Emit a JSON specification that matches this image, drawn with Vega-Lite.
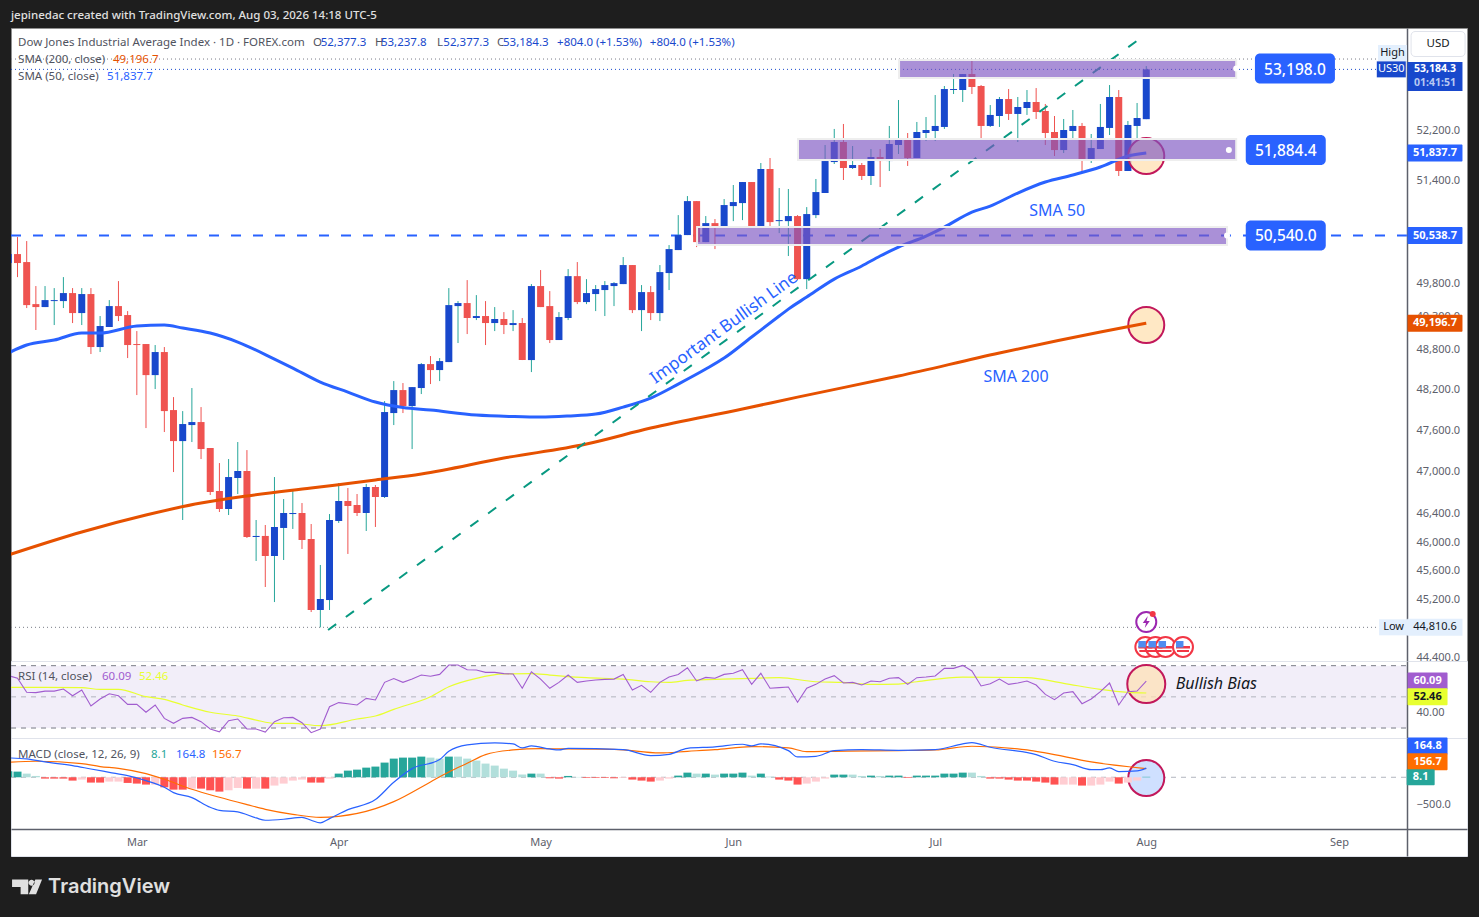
{
"$schema":"https://vega.github.io/schema/vega-lite/v6.json",
"description":"Dow Jones daily candles with SMA 50 and 200, RSI and MACD panes",
"background":"#1e1e1e",
"padding":{"left":9,"top":10,"right":12,"bottom":19},
"bounds":"flush",
"title":{"text":"jepinedac created with TradingView.com, Aug 03, 2026 14:18 UTC-5","anchor":"start","frame":"group","color":"#e0e0e0","fontSize":11.5,"fontWeight":500,"offset":6},
"spacing":0,
"config":{"font":"Noto Sans","view":{"stroke":null},"scale":{"continuousPadding":0},
"axis":{"grid":false,"ticks":false,"domainColor":"#5d606b","domainWidth":1.5,"labelColor":"#5d606b","labelFontSize":11,"labelPadding":9,"labelOverlap":false,"labelFlush":false,"labelBound":false}},
"datasets":{
"candles":[
{"bar":0,"open":50114,"high":50329,"low":50037,"close":50252},{"bar":1,"open":50252,"high":50515,"low":49898,"close":50114},{"bar":2,"open":50129,"high":50453,"low":49426,"close":49471},{"bar":3,"open":49486,"high":49761,"low":49094,"close":49441},{"bar":4,"open":49441,"high":49761,"low":49441,"close":49547},{"bar":5,"open":49532,"high":49730,"low":49169,"close":49547},{"bar":6,"open":49532,"high":49898,"low":49426,"close":49654},{"bar":7,"open":49654,"high":49730,"low":49199,"close":49350},{"bar":8,"open":49350,"high":49730,"low":49169,"close":49639},{"bar":9,"open":49639,"high":49730,"low":48733,"close":48838},
{"bar":10,"open":48838,"high":49305,"low":48763,"close":49154},{"bar":11,"open":49139,"high":49547,"low":49139,"close":49456},{"bar":12,"open":49456,"high":49837,"low":49229,"close":49305},{"bar":13,"open":49320,"high":49380,"low":48673,"close":48868},{"bar":14,"open":48883,"high":49078,"low":48123,"close":48868},{"bar":15,"open":48883,"high":48883,"low":47638,"close":48419},{"bar":16,"open":48419,"high":48868,"low":48212,"close":48763},{"bar":17,"open":48763,"high":48838,"low":47580,"close":47887},{"bar":18,"open":47902,"high":48093,"low":46999,"close":47448},{"bar":19,"open":47448,"high":47887,"low":46312,"close":47697},
{"bar":20,"open":47682,"high":48227,"low":47434,"close":47726},{"bar":21,"open":47726,"high":47946,"low":47187,"close":47332},{"bar":22,"open":47347,"high":47347,"low":46669,"close":46712},{"bar":23,"open":46726,"high":47129,"low":46426,"close":46469},{"bar":24,"open":46469,"high":47187,"low":46383,"close":46927},{"bar":25,"open":46913,"high":47434,"low":46683,"close":47014},{"bar":26,"open":47014,"high":47317,"low":46057,"close":46071},{"bar":27,"open":46071,"high":46312,"low":45733,"close":46086},{"bar":28,"open":46086,"high":46241,"low":45369,"close":45803},{"bar":29,"open":45803,"high":46927,"low":45160,"close":46213},
{"bar":30,"open":46199,"high":46611,"low":45747,"close":46412},{"bar":31,"open":46397,"high":46755,"low":46185,"close":46412},{"bar":32,"open":46412,"high":46554,"low":45902,"close":46029},{"bar":33,"open":46043,"high":46255,"low":45022,"close":45050},{"bar":34,"open":45050,"high":45677,"low":44811,"close":45202},{"bar":35,"open":45188,"high":46397,"low":45050,"close":46312},{"bar":36,"open":46298,"high":46841,"low":46270,"close":46583},{"bar":37,"open":46583,"high":46769,"low":45832,"close":46512},{"bar":38,"open":46526,"high":46683,"low":46369,"close":46412},{"bar":39,"open":46412,"high":46827,"low":46156,"close":46784},
{"bar":40,"open":46784,"high":46812,"low":46213,"close":46640},{"bar":41,"open":46640,"high":48034,"low":46626,"close":47873},{"bar":42,"open":47858,"high":48330,"low":47682,"close":48197},{"bar":43,"open":48197,"high":48301,"low":47858,"close":47961},{"bar":44,"open":47961,"high":48241,"low":47332,"close":48241},{"bar":45,"open":48227,"high":48598,"low":48138,"close":48583},{"bar":46,"open":48583,"high":48703,"low":48286,"close":48494},{"bar":47,"open":48494,"high":48673,"low":48330,"close":48628},{"bar":48,"open":48613,"high":49730,"low":48613,"close":49471},{"bar":49,"open":49456,"high":49532,"low":48898,"close":49502},
{"bar":50,"open":49502,"high":49852,"low":49033,"close":49275},{"bar":51,"open":49275,"high":49623,"low":49244,"close":49305},{"bar":52,"open":49305,"high":49532,"low":48868,"close":49199},{"bar":53,"open":49199,"high":49441,"low":49078,"close":49260},{"bar":54,"open":49260,"high":49365,"low":49033,"close":49169},{"bar":55,"open":49169,"high":49395,"low":49078,"close":49199},{"bar":56,"open":49199,"high":49275,"low":48643,"close":48643},{"bar":57,"open":48643,"high":49791,"low":48464,"close":49761},{"bar":58,"open":49761,"high":50006,"low":49441,"close":49441},{"bar":59,"open":49456,"high":49684,"low":48898,"close":48943},
{"bar":60,"open":48943,"high":49365,"low":48943,"close":49290},{"bar":61,"open":49275,"high":50021,"low":49244,"close":49913},{"bar":62,"open":49913,"high":50129,"low":49486,"close":49517},{"bar":63,"open":49517,"high":49867,"low":49486,"close":49654},{"bar":64,"open":49639,"high":49776,"low":49380,"close":49715},{"bar":65,"open":49700,"high":49837,"low":49305,"close":49776},{"bar":66,"open":49761,"high":49821,"low":49456,"close":49806},{"bar":67,"open":49791,"high":50206,"low":49791,"close":50083},{"bar":68,"open":50083,"high":50083,"low":49350,"close":49395},{"bar":69,"open":49395,"high":49776,"low":49078,"close":49669},
{"bar":70,"open":49669,"high":49761,"low":49244,"close":49350},{"bar":71,"open":49350,"high":50083,"low":49229,"close":49975},{"bar":72,"open":49960,"high":50391,"low":49700,"close":50329},{"bar":73,"open":50314,"high":50857,"low":50314,"close":50546},{"bar":74,"open":50546,"high":51155,"low":50546,"close":51076},{"bar":75,"open":51076,"high":51076,"low":50360,"close":50437},{"bar":76,"open":50437,"high":50842,"low":50437,"close":50732},{"bar":77,"open":50732,"high":50795,"low":50329,"close":50686},{"bar":78,"open":50686,"high":51108,"low":50655,"close":51014},{"bar":79,"open":50998,"high":51329,"low":50763,"close":51061},
{"bar":80,"open":51045,"high":51376,"low":50779,"close":51376},{"bar":81,"open":51376,"high":51376,"low":50686,"close":50686},{"bar":82,"open":50686,"high":51677,"low":50686,"close":51582},{"bar":83,"open":51582,"high":51756,"low":50686,"close":50748},{"bar":84,"open":50763,"high":51282,"low":50577,"close":50779},{"bar":85,"open":50763,"high":51266,"low":50222,"close":50842},{"bar":86,"open":50842,"high":50857,"low":49852,"close":49867},{"bar":87,"open":49867,"high":50982,"low":49715,"close":50873},{"bar":88,"open":50857,"high":51424,"low":50810,"close":51218},{"bar":89,"open":51203,"high":51963,"low":51203,"close":51708},
{"bar":90,"open":51692,"high":52220,"low":51661,"close":52011},{"bar":91,"open":52011,"high":52300,"low":51408,"close":51598},{"bar":92,"open":51598,"high":51947,"low":51582,"close":51645},{"bar":93,"open":51645,"high":51677,"low":51408,"close":51471},{"bar":94,"open":51471,"high":51899,"low":51329,"close":51772},{"bar":95,"open":51772,"high":51899,"low":51297,"close":51708},{"bar":96,"open":51708,"high":52268,"low":51550,"close":51979},{"bar":97,"open":51963,"high":52686,"low":51820,"close":52043},{"bar":98,"open":52043,"high":52155,"low":51630,"close":51756},{"bar":99,"open":51756,"high":52332,"low":51756,"close":52171},
{"bar":100,"open":52155,"high":52412,"low":52027,"close":52203},{"bar":101,"open":52187,"high":52767,"low":52027,"close":52268},{"bar":102,"open":52252,"high":52913,"low":52220,"close":52864},{"bar":103,"open":52848,"high":53108,"low":52783,"close":52864},{"bar":104,"open":52848,"high":53108,"low":52654,"close":53108},{"bar":105,"open":53108,"high":53353,"low":52783,"close":52897},{"bar":106,"open":52913,"high":52929,"low":52075,"close":52268},{"bar":107,"open":52268,"high":52605,"low":52252,"close":52445},{"bar":108,"open":52428,"high":52735,"low":52252,"close":52702},{"bar":109,"open":52702,"high":52864,"low":52364,"close":52461},
{"bar":110,"open":52461,"high":52735,"low":52011,"close":52573},{"bar":111,"open":52557,"high":52848,"low":52445,"close":52654},{"bar":112,"open":52654,"high":52880,"low":52380,"close":52493},{"bar":113,"open":52509,"high":52622,"low":51963,"close":52155},{"bar":114,"open":52171,"high":52428,"low":51788,"close":51883},{"bar":115,"open":51883,"high":52380,"low":51836,"close":52203},{"bar":116,"open":52187,"high":52525,"low":52059,"close":52268},{"bar":117,"open":52268,"high":52316,"low":51534,"close":51724},{"bar":118,"open":51724,"high":52139,"low":51677,"close":51915},{"bar":119,"open":51899,"high":52622,"low":51899,"close":52252},
{"bar":120,"open":52236,"high":52929,"low":52123,"close":52735},{"bar":121,"open":52735,"high":52848,"low":51471,"close":51550},{"bar":122,"open":51550,"high":52348,"low":51550,"close":52284},{"bar":123,"open":52268,"high":52638,"low":52043,"close":52396},{"bar":124,"open":52377.3,"high":53237.8,"low":52377.3,"close":53184.3}
],
"sma50":[{"bar":0,"value":48748},{"bar":2,"value":48868},{"bar":5,"value":48943},{"bar":8,"value":49048},{"bar":10,"value":49048},{"bar":14,"value":49154},{"bar":17,"value":49169},{"bar":19,"value":49124},{"bar":22,"value":49048},{"bar":25,"value":48913},{"bar":29,"value":48658},{"bar":31,"value":48523},{"bar":34,"value":48315},{"bar":37,"value":48167},{"bar":40,"value":48020},{"bar":43,"value":47939},{"bar":46,"value":47902},{"bar":51,"value":47829},{"bar":55,"value":47807},{"bar":58,"value":47799},{"bar":61,"value":47814},{"bar":64,"value":47843},{"bar":67,"value":47946},{"bar":70,"value":48079},{"bar":73,"value":48286},{"bar":76,"value":48509},{"bar":78,"value":48673},{"bar":81,"value":48988},{"bar":84,"value":49305},{"bar":85,"value":49410},{"bar":87,"value":49593},{"bar":90,"value":49867},{"bar":93,"value":50068},{"bar":95,"value":50222},{"bar":97,"value":50360},{"bar":100,"value":50530},{"bar":102,"value":50670},{"bar":105,"value":50904},{"bar":107,"value":50998},{"bar":110,"value":51203},{"bar":113,"value":51376},{"bar":116,"value":51487},{"bar":119,"value":51614},{"bar":122,"value":51788},{"bar":124,"value":51837.7}],
"sma200":[{"bar":0,"value":45817},{"bar":8,"value":46142},{"bar":15,"value":46383},{"bar":21,"value":46554},{"bar":26,"value":46654},{"bar":33,"value":46769},{"bar":40,"value":46884},{"bar":45,"value":46970},{"bar":54,"value":47201},{"bar":63,"value":47405},{"bar":70,"value":47638},{"bar":80,"value":47917},{"bar":86,"value":48093},{"bar":97,"value":48405},{"bar":108,"value":48748},{"bar":119,"value":49063},{"bar":124,"value":49196.7}],
"zones":[{"start":97.06,"end":133.8,"top":53337,"bottom":53043},{"start":86.05,"end":133.8,"top":52059,"bottom":51724},{"start":75.05,"end":132.8,"top":50671,"bottom":50391}],
"handles":[{"bar":133.8,"value":53198},{"bar":133,"value":51884.4},{"bar":132.8,"value":50540}],
"zoneTags":[{"label":"53,198.0","bar":140.2,"value":53198},{"label":"51,884.4","bar":139.2,"value":51884.4},{"label":"50,540.0","bar":139.2,"value":50540}],
"priceTags":[{"label":"51,837.7","at":51837.7,"tone":"sma50"},{"label":"50,538.7","at":50538.7,"tone":"sma50"},{"label":"49,196.7","at":49196.7,"tone":"sma200"}],
"flags":[{"label":"High","bar":150.83,"at":53452,"tone":"light"},{"label":"US30","bar":150.7,"at":53184.3,"tone":"price"},{"label":"Low","bar":150.95,"at":44811,"tone":"light"}],
"notes":[
{"label":"Dow Jones Industrial Average Index · 1D · FOREX.com","bar":1.06,"at":53632,"tone":"muted"},
{"label":"O","bar":33.2,"at":53632,"tone":"muted"},{"label":"52,377.3","bar":34.04,"at":53632,"tone":"price"},
{"label":"H","bar":39.96,"at":53632,"tone":"muted"},{"label":"53,237.8","bar":40.6,"at":53632,"tone":"price"},
{"label":"L","bar":46.7,"at":53632,"tone":"muted"},{"label":"52,377.3","bar":47.4,"at":53632,"tone":"price"},
{"label":"C","bar":53.25,"at":53632,"tone":"muted"},{"label":"53,184.3","bar":53.9,"at":53632,"tone":"price"},
{"label":"+804.0 (+1.53%)","bar":59.8,"at":53632,"tone":"price"},{"label":"+804.0 (+1.53%)","bar":69.9,"at":53632,"tone":"price"},
{"label":"SMA (200, close)","bar":1.06,"at":53353,"tone":"muted"},{"label":"49,196.7","bar":11.4,"at":53353,"tone":"sma200"},
{"label":"SMA (50, close)","bar":1.06,"at":53075,"tone":"muted"},{"label":"51,837.7","bar":10.76,"at":53075,"tone":"sma50"}
],
"rsi":[{"bar":0,"value":63.6},{"bar":1,"value":61.9},{"bar":2,"value":52.9},{"bar":3,"value":52.7},{"bar":4,"value":53.7},{"bar":5,"value":53.7},{"bar":6,"value":55},{"bar":7,"value":50.7},{"bar":8,"value":54.4},{"bar":9,"value":44.1},{"bar":10,"value":48.6},{"bar":11,"value":52},{"bar":12,"value":50.7},{"bar":13,"value":45.2},{"bar":14,"value":45.2},{"bar":15,"value":40.1},{"bar":16,"value":44.8},{"bar":17,"value":36.2},{"bar":18,"value":33},{"bar":19,"value":36.2},{"bar":20,"value":36.8},{"bar":21,"value":34.1},{"bar":22,"value":29.4},{"bar":23,"value":27.6},{"bar":24,"value":34.7},{"bar":25,"value":35.8},{"bar":26,"value":29.4},{"bar":27,"value":29.4},{"bar":28,"value":27.4},{"bar":29,"value":34.1},{"bar":30,"value":36.6},{"bar":31,"value":36.8},{"bar":32,"value":33.4},{"bar":33,"value":27},{"bar":34,"value":29.4},{"bar":35,"value":43.7},{"bar":36,"value":46.3},{"bar":37,"value":45.6},{"bar":38,"value":44.8},{"bar":39,"value":49},{"bar":40,"value":48},{"bar":41,"value":59.3},{"bar":42,"value":61.7},{"bar":43,"value":59.3},{"bar":44,"value":61.4},{"bar":45,"value":64},{"bar":46,"value":63.2},{"bar":47,"value":64.4},{"bar":48,"value":70.4},{"bar":49,"value":70.4},{"bar":50,"value":67.4},{"bar":51,"value":67.2},{"bar":52,"value":65.7},{"bar":53,"value":65.7},{"bar":54,"value":64.9},{"bar":55,"value":64.7},{"bar":56,"value":55.5},{"bar":57,"value":66.1},{"bar":58,"value":61.4},{"bar":59,"value":55.5},{"bar":60,"value":59.3},{"bar":61,"value":64},{"bar":62,"value":59.3},{"bar":63,"value":60.2},{"bar":64,"value":60.8},{"bar":65,"value":61.2},{"bar":66,"value":61.4},{"bar":67,"value":64.4},{"bar":68,"value":54.4},{"bar":69,"value":57.4},{"bar":70,"value":52.9},{"bar":71,"value":59.3},{"bar":72,"value":62.7},{"bar":73,"value":64.4},{"bar":74,"value":68.7},{"bar":75,"value":60.2},{"bar":76,"value":62.5},{"bar":77,"value":61.9},{"bar":78,"value":64.4},{"bar":79,"value":65.1},{"bar":80,"value":67.4},{"bar":81,"value":58},{"bar":82,"value":65.1},{"bar":83,"value":55.5},{"bar":84,"value":55.9},{"bar":85,"value":56.3},{"bar":86,"value":46.5},{"bar":87,"value":55.5},{"bar":88,"value":58},{"bar":89,"value":61.4},{"bar":90,"value":63.6},{"bar":91,"value":58.9},{"bar":92,"value":59.3},{"bar":93,"value":57.6},{"bar":94,"value":60.2},{"bar":95,"value":59.7},{"bar":96,"value":61.9},{"bar":97,"value":62.3},{"bar":98,"value":58},{"bar":99,"value":62.3},{"bar":100,"value":62.7},{"bar":101,"value":63.4},{"bar":102,"value":68.3},{"bar":103,"value":68.3},{"bar":104,"value":70.2},{"bar":105,"value":66.6},{"bar":106,"value":57},{"bar":107,"value":58.4},{"bar":108,"value":61.4},{"bar":109,"value":58},{"bar":110,"value":58.9},{"bar":111,"value":60.2},{"bar":112,"value":57.6},{"bar":113,"value":51.6},{"bar":114,"value":48.2},{"bar":115,"value":52.5},{"bar":116,"value":53.3},{"bar":117,"value":45.6},{"bar":118,"value":48.6},{"bar":119,"value":53.3},{"bar":120,"value":58.9},{"bar":121,"value":44.8},{"bar":122,"value":53.3},{"bar":123,"value":53.7},{"bar":124,"value":60.09}],
"rsiMa":[{"bar":0,"value":56.1},{"bar":4,"value":56.1},{"bar":8,"value":55.9},{"bar":10,"value":54.8},{"bar":12,"value":54.8},{"bar":15,"value":50.1},{"bar":17,"value":48.4},{"bar":19,"value":44.8},{"bar":22,"value":40.1},{"bar":25,"value":37.7},{"bar":27,"value":35.1},{"bar":29,"value":33},{"bar":31,"value":33},{"bar":34,"value":31.5},{"bar":38,"value":35.8},{"bar":40,"value":37.7},{"bar":42,"value":42},{"bar":46,"value":50.1},{"bar":48,"value":56.5},{"bar":51,"value":61.9},{"bar":54,"value":64.7},{"bar":57,"value":64.9},{"bar":59,"value":64},{"bar":63,"value":62.3},{"bar":67,"value":61.4},{"bar":70,"value":59.7},{"bar":72,"value":59.3},{"bar":74,"value":60.6},{"bar":77,"value":61.2},{"bar":81,"value":61.9},{"bar":84,"value":62.3},{"bar":88,"value":59.7},{"bar":91,"value":59.3},{"bar":94,"value":58},{"bar":97,"value":58.2},{"bar":99,"value":59.7},{"bar":104,"value":62.7},{"bar":111,"value":62.3},{"bar":115,"value":58.7},{"bar":119,"value":54.8},{"bar":122,"value":52.9},{"bar":124,"value":52.46}],
"rsiTags":[{"label":"60.09","at":60.09,"tone":"rsi"},{"label":"52.46","at":50.1,"tone":"rsiMa"}],
"rsiNotes":[{"label":"RSI (14, close)","bar":1.06,"at":63.4,"tone":"muted"},{"label":"60.09","bar":10.21,"at":63.4,"tone":"rsi"},{"label":"52.46","bar":14.24,"at":63.4,"tone":"rsiMa"}],
"macd":[{"bar":0,"value":349},{"bar":2,"value":331},{"bar":4,"value":277},{"bar":7,"value":211},{"bar":9,"value":150},{"bar":11,"value":90},{"bar":13,"value":30},{"bar":15,"value":-60},{"bar":17,"value":-181},{"bar":18,"value":-277},{"bar":20,"value":-367},{"bar":22,"value":-542},{"bar":23,"value":-596},{"bar":25,"value":-626},{"bar":27,"value":-734},{"bar":28,"value":-776},{"bar":30,"value":-758},{"bar":32,"value":-722},{"bar":33,"value":-776},{"bar":34,"value":-824},{"bar":35,"value":-746},{"bar":37,"value":-584},{"bar":40,"value":-403},{"bar":42,"value":-90},{"bar":44,"value":156},{"bar":47,"value":319},{"bar":48,"value":469},{"bar":50,"value":584},{"bar":53,"value":620},{"bar":55,"value":602},{"bar":56,"value":530},{"bar":57,"value":566},{"bar":59,"value":511},{"bar":60,"value":493},{"bar":61,"value":523},{"bar":67,"value":499},{"bar":70,"value":391},{"bar":72,"value":415},{"bar":74,"value":523},{"bar":77,"value":548},{"bar":80,"value":596},{"bar":81,"value":566},{"bar":82,"value":602},{"bar":85,"value":481},{"bar":86,"value":367},{"bar":88,"value":379},{"bar":90,"value":481},{"bar":93,"value":499},{"bar":97,"value":487},{"bar":101,"value":499},{"bar":104,"value":602},{"bar":105,"value":626},{"bar":107,"value":542},{"bar":112,"value":409},{"bar":114,"value":289},{"bar":116,"value":229},{"bar":118,"value":138},{"bar":119,"value":138},{"bar":120,"value":168},{"bar":121,"value":102},{"bar":123,"value":114},{"bar":124,"value":164.8}],
"signal":[{"bar":0,"value":271},{"bar":3,"value":289},{"bar":8,"value":247},{"bar":10,"value":193},{"bar":12,"value":162},{"bar":15,"value":66},{"bar":17,"value":-36},{"bar":20,"value":-217},{"bar":23,"value":-361},{"bar":26,"value":-493},{"bar":28,"value":-578},{"bar":31,"value":-668},{"bar":34,"value":-722},{"bar":36,"value":-704},{"bar":40,"value":-566},{"bar":42,"value":-439},{"bar":46,"value":-84},{"bar":48,"value":96},{"bar":50,"value":253},{"bar":52,"value":409},{"bar":55,"value":493},{"bar":58,"value":517},{"bar":60,"value":511},{"bar":66,"value":505},{"bar":71,"value":439},{"bar":74,"value":469},{"bar":77,"value":499},{"bar":81,"value":554},{"bar":85,"value":529},{"bar":87,"value":463},{"bar":90,"value":469},{"bar":97,"value":481},{"bar":101,"value":493},{"bar":105,"value":560},{"bar":111,"value":493},{"bar":113,"value":439},{"bar":118,"value":277},{"bar":124,"value":156.7}],
"hist":[{"bar":0,"value":110,"tone":"teal"},{"bar":1,"value":102,"tone":"teal"},{"bar":2,"value":66,"tone":"fade"},{"bar":3,"value":24,"tone":"fade"},{"bar":4,"value":-24,"tone":"red"},{"bar":5,"value":-24,"tone":"red"},{"bar":6,"value":-24,"tone":"red"},{"bar":7,"value":-60,"tone":"red"},{"bar":8,"value":-42,"tone":"pink"},{"bar":9,"value":-96,"tone":"red"},{"bar":10,"value":-96,"tone":"red"},{"bar":11,"value":-78,"tone":"pink"},{"bar":12,"value":-78,"tone":"pink"},{"bar":13,"value":-102,"tone":"red"},{"bar":14,"value":-114,"tone":"red"},{"bar":15,"value":-132,"tone":"red"},{"bar":16,"value":-132,"tone":"pink"},{"bar":17,"value":-181,"tone":"red"},{"bar":18,"value":-223,"tone":"red"},{"bar":19,"value":-223,"tone":"red"},{"bar":20,"value":-205,"tone":"pink"},{"bar":21,"value":-205,"tone":"red"},{"bar":22,"value":-235,"tone":"red"},{"bar":23,"value":-259,"tone":"red"},{"bar":24,"value":-235,"tone":"pink"},{"bar":25,"value":-193,"tone":"pink"},{"bar":26,"value":-205,"tone":"red"},{"bar":27,"value":-205,"tone":"pink"},{"bar":28,"value":-205,"tone":"red"},{"bar":29,"value":-150,"tone":"pink"},{"bar":30,"value":-114,"tone":"pink"},{"bar":31,"value":-60,"tone":"pink"},{"bar":32,"value":-42,"tone":"pink"},{"bar":33,"value":-96,"tone":"red"},{"bar":34,"value":-96,"tone":"red"},{"bar":35,"value":-24,"tone":"pink"},{"bar":36,"value":66,"tone":"teal"},{"bar":37,"value":120,"tone":"teal"},{"bar":38,"value":138,"tone":"teal"},{"bar":39,"value":174,"tone":"teal"},{"bar":40,"value":193,"tone":"teal"},{"bar":41,"value":265,"tone":"teal"},{"bar":42,"value":337,"tone":"teal"},{"bar":43,"value":355,"tone":"teal"},{"bar":44,"value":355,"tone":"teal"},{"bar":45,"value":373,"tone":"teal"},{"bar":46,"value":355,"tone":"fade"},{"bar":47,"value":337,"tone":"fade"},{"bar":48,"value":373,"tone":"teal"},{"bar":49,"value":373,"tone":"fade"},{"bar":50,"value":337,"tone":"fade"},{"bar":51,"value":301,"tone":"fade"},{"bar":52,"value":247,"tone":"fade"},{"bar":53,"value":211,"tone":"fade"},{"bar":54,"value":156,"tone":"fade"},{"bar":55,"value":120,"tone":"fade"},{"bar":56,"value":48,"tone":"fade"},{"bar":57,"value":66,"tone":"teal"},{"bar":58,"value":66,"tone":"fade"},{"bar":59,"value":-18,"tone":"red"},{"bar":60,"value":-24,"tone":"red"},{"bar":61,"value":24,"tone":"teal"},{"bar":62,"value":6,"tone":"fade"},{"bar":63,"value":-12,"tone":"red"},{"bar":64,"value":-12,"tone":"red"},{"bar":65,"value":-12,"tone":"red"},{"bar":66,"value":-18,"tone":"red"},{"bar":67,"value":-12,"tone":"pink"},{"bar":68,"value":-42,"tone":"red"},{"bar":69,"value":-60,"tone":"red"},{"bar":70,"value":-78,"tone":"red"},{"bar":71,"value":-60,"tone":"pink"},{"bar":72,"value":-24,"tone":"pink"},{"bar":73,"value":30,"tone":"teal"},{"bar":74,"value":84,"tone":"teal"},{"bar":75,"value":66,"tone":"fade"},{"bar":76,"value":66,"tone":"teal"},{"bar":77,"value":48,"tone":"fade"},{"bar":78,"value":66,"tone":"teal"},{"bar":79,"value":66,"tone":"teal"},{"bar":80,"value":84,"tone":"teal"},{"bar":81,"value":30,"tone":"fade"},{"bar":82,"value":66,"tone":"teal"},{"bar":83,"value":12,"tone":"fade"},{"bar":84,"value":-42,"tone":"red"},{"bar":85,"value":-60,"tone":"red"},{"bar":86,"value":-132,"tone":"red"},{"bar":87,"value":-114,"tone":"pink"},{"bar":88,"value":-78,"tone":"pink"},{"bar":89,"value":-24,"tone":"pink"},{"bar":90,"value":48,"tone":"teal"},{"bar":91,"value":48,"tone":"teal"},{"bar":92,"value":48,"tone":"fade"},{"bar":93,"value":24,"tone":"fade"},{"bar":94,"value":30,"tone":"teal"},{"bar":95,"value":24,"tone":"fade"},{"bar":96,"value":30,"tone":"teal"},{"bar":97,"value":30,"tone":"teal"},{"bar":98,"value":-12,"tone":"red"},{"bar":99,"value":30,"tone":"teal"},{"bar":100,"value":30,"tone":"teal"},{"bar":101,"value":30,"tone":"teal"},{"bar":102,"value":66,"tone":"teal"},{"bar":103,"value":66,"tone":"teal"},{"bar":104,"value":84,"tone":"teal"},{"bar":105,"value":84,"tone":"fade"},{"bar":106,"value":24,"tone":"fade"},{"bar":107,"value":-24,"tone":"red"},{"bar":108,"value":-24,"tone":"red"},{"bar":109,"value":-42,"tone":"red"},{"bar":110,"value":-60,"tone":"red"},{"bar":111,"value":-60,"tone":"red"},{"bar":112,"value":-78,"tone":"red"},{"bar":113,"value":-96,"tone":"red"},{"bar":114,"value":-132,"tone":"red"},{"bar":115,"value":-132,"tone":"pink"},{"bar":116,"value":-132,"tone":"pink"},{"bar":117,"value":-150,"tone":"red"},{"bar":118,"value":-150,"tone":"pink"},{"bar":119,"value":-132,"tone":"pink"},{"bar":120,"value":-78,"tone":"pink"},{"bar":121,"value":-114,"tone":"red"},{"bar":122,"value":-96,"tone":"pink"},{"bar":123,"value":-60,"tone":"pink"},{"bar":124,"value":8.1,"tone":"teal"}],
"macdTags":[{"label":"164.8","at":565,"tone":"sma50"},{"label":"156.7","at":282,"tone":"signal"}],
"macdNotes":[{"label":"MACD (close, 12, 26, 9)","bar":1.06,"at":420,"tone":"muted"},{"label":"8.1","bar":15.55,"at":420,"tone":"teal"},{"label":"164.8","bar":18.27,"at":420,"tone":"sma50"},{"label":"156.7","bar":22.2,"at":420,"tone":"signal"}]
},
"vconcat":[
{"width":1456,"height":633,"view":{"fill":"#ffffff","stroke":"#8f8f8f"},
"layer":[
{"data":{"values":[{"tone":"grey","value":53353},{"tone":"price","value":53184.3},{"tone":"grey","value":44811}]},
"mark":{"type":"rule","strokeDash":[1,3],"strokeWidth":1},
"encoding":{"x":{"datum":0.29,"type":"quantitative","scale":{"domain":[0.29,158.95],"nice":false,"zero":false},"axis":null},"x2":{"datum":149.3},
"y":{"field":"value","type":"quantitative","scale":{"type":"log","domain":[44350,53864],"nice":false,"zero":false},
"axis":{"orient":"right","offset":-60,"title":null,"values":[44400,45200,45600,46000,46400,47000,47600,48200,48800,49300,49800,50600,51400,52200],"format":",.1f"}},
"color":{"field":"tone","legend":null,"scale":{"domain":["muted","grey","price","sma50","sma200","rsi","rsiMa","signal","teal","fade","red","pink","light"],"range":["#50535e","#787b86","#1848cc","#2962ff","#e65100","#a15ccf","#e8ff30","#ff6d00","#26a69a","#b2dfdb","#ff5252","#ffcdd2","#e3effd"]}}}},
{"data":{"values":[{"value":50538.7}]},"mark":{"type":"rule","strokeDash":[10,12],"strokeWidth":2,"color":"#2962ff"},
"encoding":{"x":{"datum":0.29,"type":"quantitative","axis":null},"x2":{"datum":152.4},"y":{"field":"value","type":"quantitative"}}},
{"data":{"name":"candles"},"mark":{"type":"rule","strokeWidth":1,"clip":true},
"encoding":{"x":{"field":"bar","type":"quantitative","axis":null},"y":{"field":"low","type":"quantitative"},"y2":{"field":"high"},
"color":{"condition":{"test":"datum.close>=datum.open","value":"#26a69a"},"value":"#ef5350"}}},
{"data":{"name":"candles"},"mark":{"type":"bar","size":7,"clip":true},
"encoding":{"x":{"field":"bar","type":"quantitative","axis":null},"y":{"field":"open","type":"quantitative"},"y2":{"field":"close"},
"color":{"condition":{"test":"datum.close>=datum.open","value":"#1848cc"},"value":"#ef5350"}}},
{"data":{"values":[{"bar":124,"value":51788},{"bar":124,"value":49169}]},
"mark":{"type":"point","shape":"circle","filled":true,"opacity":1,"size":1296,"fill":"#ffe0b2","fillOpacity":0.75,"stroke":"#c2185b","strokeWidth":2},
"encoding":{"x":{"field":"bar","type":"quantitative","axis":null},"y":{"field":"value","type":"quantitative"}}},
{"data":{"name":"sma200"},"mark":{"type":"line","color":"#e65100","strokeWidth":3,"interpolate":"monotone","clip":true},
"encoding":{"x":{"field":"bar","type":"quantitative","axis":null},"y":{"field":"value","type":"quantitative"}}},
{"data":{"name":"sma50"},"mark":{"type":"line","color":"#2962ff","strokeWidth":3,"interpolate":"monotone","clip":true},
"encoding":{"x":{"field":"bar","type":"quantitative","axis":null},"y":{"field":"value","type":"quantitative"}}},
{"data":{"values":[{"bar":34.84,"value":44774},{"bar":123.1,"value":53665}]},
"mark":{"type":"line","color":"#089981","strokeWidth":2,"strokeDash":[10,12]},
"encoding":{"x":{"field":"bar","type":"quantitative","axis":null},"y":{"field":"value","type":"quantitative"}}},
{"data":{"name":"zones"},"mark":{"type":"rect","fill":"#7e57c2","fillOpacity":0.66,"stroke":"#eeeeee","strokeWidth":2},
"encoding":{"x":{"field":"start","type":"quantitative","axis":null},"x2":{"field":"end"},"y":{"field":"top","type":"quantitative"},"y2":{"field":"bottom"}}},
{"data":{"name":"handles"},"mark":{"type":"point","shape":"circle","filled":true,"opacity":1,"size":36,"color":"#ffffff"},
"encoding":{"x":{"field":"bar","type":"quantitative","axis":null},"y":{"field":"value","type":"quantitative"}}},
{"data":{"name":"zoneTags"},"mark":{"type":"rect","width":80,"height":30,"cornerRadius":5,"fill":"#2962ff"},
"encoding":{"x":{"field":"bar","type":"quantitative","axis":null},"y":{"field":"value","type":"quantitative"}}},
{"data":{"name":"zoneTags"},"mark":{"type":"text","fontSize":15.5,"fontWeight":500,"color":"#ffffff","dy":1},
"encoding":{"x":{"field":"bar","type":"quantitative","axis":null},"y":{"field":"value","type":"quantitative"},"text":{"field":"label"}}},
{"data":{"name":"notes"},"mark":{"type":"text","align":"left","fontSize":11.5,"dy":1},
"encoding":{"x":{"field":"bar","type":"quantitative","axis":null},"y":{"field":"at","type":"quantitative"},"text":{"field":"label"},"color":{"field":"tone","legend":null}}},
{"data":{"values":[{"label":"Important Bullish Line","bar":78,"at":49124}]},"mark":{"type":"text","angle":324,"fontSize":17,"color":"#2962ff"},
"encoding":{"x":{"field":"bar","type":"quantitative","axis":null},"y":{"field":"at","type":"quantitative"},"text":{"field":"label"}}},
{"data":{"values":[{"label":"SMA 50","bar":114.3,"at":50935},{"label":"SMA 200","bar":109.8,"at":48405}]},"mark":{"type":"text","fontSize":16,"color":"#2962ff","dy":1},
"encoding":{"x":{"field":"bar","type":"quantitative","axis":null},"y":{"field":"at","type":"quantitative"},"text":{"field":"label"}}},
{"data":{"values":[{"bar":123.9},{"bar":125},{"bar":126.1},{"bar":128}]},"mark":{"type":"point","shape":"circle","filled":true,"opacity":1,"size":400,"fill":"#ffffff","stroke":"#f23645","strokeWidth":2},
"encoding":{"x":{"field":"bar","type":"quantitative","axis":null},"y":{"datum":44541,"type":"quantitative"}}},
{"data":{"values":[{"bar":123.9},{"bar":125},{"bar":126.1},{"bar":128}]},"mark":{"type":"point","shape":"M-0.7,-0.1 H0.7 V0.15 H-0.7Z M-0.6,0.3 H0.6 V0.5 H-0.6Z","filled":true,"opacity":1,"size":400,"color":"#f23645"},
"encoding":{"x":{"field":"bar","type":"quantitative","axis":null},"y":{"datum":44541,"type":"quantitative"}}},
{"data":{"values":[{"bar":123.9},{"bar":125},{"bar":126.1},{"bar":128}]},"mark":{"type":"point","shape":"M-0.7,-0.6 H0.05 V0.05 H-0.7Z","filled":true,"opacity":1,"size":400,"color":"#4f8cf0"},
"encoding":{"x":{"field":"bar","type":"quantitative","axis":null},"y":{"datum":44541,"type":"quantitative"}}},
{"data":{"values":[{"bar":124}]},"mark":{"type":"point","shape":"circle","filled":true,"opacity":1,"size":400,"fill":"#ffffff","stroke":"#9c27b0","strokeWidth":2},
"encoding":{"x":{"field":"bar","type":"quantitative","axis":null},"y":{"datum":44884,"type":"quantitative"}}},
{"data":{"values":[{"bar":124}]},"mark":{"type":"point","shape":"M0.15,-0.6 L-0.35,0.1 L-0.03,0.1 L-0.15,0.6 L0.35,-0.1 L0.03,-0.1 Z","filled":true,"opacity":1,"size":400,"color":"#9c27b0"},
"encoding":{"x":{"field":"bar","type":"quantitative","axis":null},"y":{"datum":44884,"type":"quantitative"}}},
{"data":{"values":[{"bar":124.7}]},"mark":{"type":"point","shape":"circle","filled":true,"opacity":1,"size":36,"color":"#f23645"},
"encoding":{"x":{"field":"bar","type":"quantitative","axis":null},"y":{"datum":44994,"type":"quantitative"}}},
{"data":{"name":"priceTags"},"mark":{"type":"rect","width":55,"height":17,"cornerRadius":1},
"encoding":{"x":{"datum":155.46,"type":"quantitative","axis":null},"y":{"field":"at","type":"quantitative"},"color":{"field":"tone","legend":null}}},
{"data":{"name":"priceTags"},"mark":{"type":"text","fontSize":11,"fontWeight":"bold","color":"#ffffff"},
"encoding":{"x":{"datum":155.46,"type":"quantitative","axis":null},"y":{"field":"at","type":"quantitative"},"text":{"field":"label"}}},
{"data":{"values":[{"at":53067}]},"mark":{"type":"rect","width":55,"height":29,"fill":"#1848cc"},
"encoding":{"x":{"datum":155.46,"type":"quantitative","axis":null},"y":{"field":"at","type":"quantitative"}}},
{"data":{"values":[{"label":"53,184.3","at":53190,"tone":"main"},{"label":"01:41:51","at":52960,"tone":"time"}]},"mark":{"type":"text","fontSize":10.5,"fontWeight":"bold"},
"encoding":{"x":{"datum":155.46,"type":"quantitative","axis":null},"y":{"field":"at","type":"quantitative"},"text":{"field":"label"},
"color":{"condition":{"test":"datum.tone==='main'","value":"#ffffff"},"value":"#b9c9f2"}}},
{"data":{"name":"flags"},"mark":{"type":"rect","width":29,"height":16},
"encoding":{"x":{"field":"bar","type":"quantitative","axis":null},"y":{"field":"at","type":"quantitative"},"color":{"field":"tone","legend":null}}},
{"data":{"name":"flags"},"mark":{"type":"text","fontSize":11},
"encoding":{"x":{"field":"bar","type":"quantitative","axis":null},"y":{"field":"at","type":"quantitative"},"text":{"field":"label"},
"color":{"condition":{"test":"datum.tone==='price'","value":"#ffffff"},"value":"#131722"}}},
{"data":{"values":[{"at":44811}]},"mark":{"type":"rect","width":55,"height":17,"fill":"#e3effd"},
"encoding":{"x":{"datum":155.46,"type":"quantitative","axis":null},"y":{"field":"at","type":"quantitative"}}},
{"data":{"values":[{"label":"44,810.6","at":44811}]},"mark":{"type":"text","fontSize":11,"color":"#131722"},
"encoding":{"x":{"datum":155.46,"type":"quantitative","axis":null},"y":{"field":"at","type":"quantitative"},"text":{"field":"label"}}},
{"data":{"values":[{"at":53600}]},"mark":{"type":"rect","width":54,"height":25,"cornerRadius":4,"fill":"#ffffff","stroke":"#e0e3eb"},
"encoding":{"x":{"datum":155.8,"type":"quantitative","axis":null},"y":{"field":"at","type":"quantitative"}}},
{"data":{"values":[{"label":"USD","at":53600}]},"mark":{"type":"text","fontSize":11.5,"color":"#131722"},
"encoding":{"x":{"datum":155.8,"type":"quantitative","axis":null},"y":{"field":"at","type":"quantitative"},"text":{"field":"label"}}}
]},
{"width":1456,"height":77,"view":{"fill":"#ffffff","stroke":"#e0e3eb"},
"layer":[
{"data":{"values":[{"top":70,"bottom":30}]},"mark":{"type":"rect","fill":"#7e57c2","fillOpacity":0.1},
"encoding":{"x":{"datum":0.29,"type":"quantitative","scale":{"domain":[0.29,158.95],"nice":false,"zero":false},"axis":null},"x2":{"datum":152.4},
"y":{"field":"top","type":"quantitative","scale":{"domain":[23.6,73],"nice":false,"zero":false},
"axis":{"orient":"right","offset":-60,"title":null,"values":[40],"format":".2f"}},"y2":{"field":"bottom"}}},
{"data":{"values":[{"value":70},{"value":30}]},"mark":{"type":"rule","strokeDash":[5,5],"strokeWidth":1,"color":"#787b86"},
"encoding":{"x":{"datum":0.29,"type":"quantitative","axis":null},"x2":{"datum":152.4},"y":{"field":"value","type":"quantitative"}}},
{"data":{"values":[{"value":50}]},"mark":{"type":"rule","strokeDash":[5,5],"strokeWidth":1,"color":"#b2b5be"},
"encoding":{"x":{"datum":0.29,"type":"quantitative","axis":null},"x2":{"datum":152.4},"y":{"field":"value","type":"quantitative"}}},
{"data":{"values":[{"bar":124,"value":58.25}]},"mark":{"type":"point","shape":"circle","filled":true,"opacity":1,"size":1444,"fill":"#ffe0b2","fillOpacity":0.7,"stroke":"#c2185b","strokeWidth":2},
"encoding":{"x":{"field":"bar","type":"quantitative","axis":null},"y":{"field":"value","type":"quantitative"}}},
{"data":{"name":"rsiMa"},"mark":{"type":"line","color":"#e8ff30","strokeWidth":1.2,"interpolate":"monotone","clip":true},
"encoding":{"x":{"field":"bar","type":"quantitative","axis":null},"y":{"field":"value","type":"quantitative"}}},
{"data":{"name":"rsi"},"mark":{"type":"line","color":"#a15ccf","strokeWidth":1.1,"clip":true},
"encoding":{"x":{"field":"bar","type":"quantitative","axis":null},"y":{"field":"value","type":"quantitative"}}},
{"data":{"name":"rsiNotes"},"mark":{"type":"text","align":"left","fontSize":11.5,"dy":1},
"encoding":{"x":{"field":"bar","type":"quantitative","axis":null},"y":{"field":"at","type":"quantitative"},"text":{"field":"label"},"color":{"field":"tone","legend":null}}},
{"data":{"values":[{"label":"Bullish Bias","bar":127.2,"at":58.4}]},"mark":{"type":"text","align":"left","fontSize":16,"fontStyle":"italic","color":"#131722"},
"encoding":{"x":{"field":"bar","type":"quantitative","axis":null},"y":{"field":"at","type":"quantitative"},"text":{"field":"label"}}},
{"data":{"name":"rsiTags"},"mark":{"type":"rect","width":40,"height":17,"cornerRadius":1},
"encoding":{"x":{"datum":154.65,"type":"quantitative","axis":null},"y":{"field":"at","type":"quantitative"},"color":{"field":"tone","legend":null}}},
{"data":{"name":"rsiTags"},"mark":{"type":"text","fontSize":11,"fontWeight":"bold"},
"encoding":{"x":{"datum":154.65,"type":"quantitative","axis":null},"y":{"field":"at","type":"quantitative"},"text":{"field":"label"},
"color":{"condition":{"test":"datum.tone==='rsiMa'","value":"#131722"},"value":"#ffffff"}}}
]},
{"width":1456,"height":118,"view":{"fill":"#ffffff","stroke":"#e0e3eb"},
"layer":[
{"data":{"values":[{"value":0}]},"mark":{"type":"rule","strokeDash":[5,5],"strokeWidth":1,"color":"#b2b5be"},
"encoding":{"x":{"datum":0.29,"type":"quantitative","scale":{"domain":[0.29,158.95],"nice":false,"zero":false},"axis":{"orient":"bottom","offset":-27,"title":null,"values":[14,36,58,79,101,124,145],"labelExpr":"{'14':'Mar','36':'Apr','58':'May','79':'Jun','101':'Jul','124':'Aug','145':'Sep'}[datum.value]","labelPadding":7}},"x2":{"datum":152.4},
"y":{"field":"value","type":"quantitative","scale":{"domain":[-1421,709],"nice":false,"zero":false},
"axis":{"orient":"right","offset":-60,"title":null,"values":[-500],"format":",.1f"}}}},
{"data":{"values":[{"bar":124,"value":-13}]},"mark":{"type":"point","shape":"circle","filled":true,"opacity":1,"size":1296,"fill":"#cfe0ff","stroke":"#c2185b","strokeWidth":2},
"encoding":{"x":{"field":"bar","type":"quantitative"},"y":{"field":"value","type":"quantitative"}}},
{"data":{"name":"hist"},"mark":{"type":"bar","size":8,"clip":true},
"encoding":{"x":{"field":"bar","type":"quantitative"},"y":{"field":"value","type":"quantitative"},"y2":{"datum":0},"color":{"field":"tone","legend":null}}},
{"data":{"name":"signal"},"mark":{"type":"line","color":"#ff6d00","strokeWidth":1.2,"interpolate":"monotone","clip":true},
"encoding":{"x":{"field":"bar","type":"quantitative"},"y":{"field":"value","type":"quantitative"}}},
{"data":{"name":"macd"},"mark":{"type":"line","color":"#2962ff","strokeWidth":1.2,"interpolate":"monotone","clip":true},
"encoding":{"x":{"field":"bar","type":"quantitative"},"y":{"field":"value","type":"quantitative"}}},
{"data":{"name":"macdNotes"},"mark":{"type":"text","align":"left","fontSize":11.5,"dy":1},
"encoding":{"x":{"field":"bar","type":"quantitative"},"y":{"field":"at","type":"quantitative"},"text":{"field":"label"},"color":{"field":"tone","legend":null}}},
{"data":{"name":"macdTags"},"mark":{"type":"rect","width":40,"height":17,"cornerRadius":1},
"encoding":{"x":{"datum":154.65,"type":"quantitative"},"y":{"field":"at","type":"quantitative"},"color":{"field":"tone","legend":null}}},
{"data":{"values":[{"at":0}]},"mark":{"type":"rect","width":28,"height":16,"cornerRadius":1,"fill":"#26a69a"},
"encoding":{"x":{"datum":153.9,"type":"quantitative"},"y":{"field":"at","type":"quantitative"}}},
{"data":{"name":"macdTags"},"mark":{"type":"text","fontSize":11,"fontWeight":"bold","color":"#ffffff"},
"encoding":{"x":{"datum":154.65,"type":"quantitative"},"y":{"field":"at","type":"quantitative"},"text":{"field":"label"}}},
{"data":{"values":[{"label":"8.1","at":0}]},"mark":{"type":"text","fontSize":11,"fontWeight":"bold","color":"#ffffff"},
"encoding":{"x":{"datum":153.9,"type":"quantitative"},"y":{"field":"at","type":"quantitative"},"text":{"field":"label"}}},
{"data":{"values":[{"bar":2.04}]},"mark":{"type":"point","shape":"M-1,-0.49 L0.08,-0.49 L0.08,0.49 L-0.43,0.49 L-0.43,0 L-1,0 Z M0.1,-0.28 a0.2,0.2 0 1,0 0.4,0 a0.2,0.2 0 1,0 -0.4,0 Z M0.55,-0.49 L1,-0.49 L0.6,0.49 L0.12,0.49 Z","filled":true,"opacity":1,"size":900,"color":"#e0e0e0"},
"encoding":{"x":{"field":"bar","type":"quantitative"},"y":{"datum":-1980,"type":"quantitative"}}},
{"data":{"values":[{"label":"TradingView","bar":4.33}]},"mark":{"type":"text","align":"left","font":"Inter","fontSize":20,"fontWeight":600,"color":"#e0e0e0"},
"encoding":{"x":{"field":"bar","type":"quantitative"},"y":{"datum":-1980,"type":"quantitative"},"text":{"field":"label"}}}
]}
]
}
